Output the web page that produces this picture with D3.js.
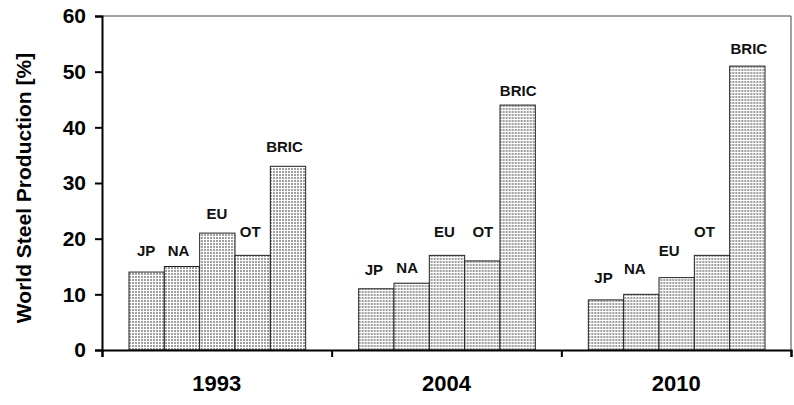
<!DOCTYPE html>
<html>
<head>
<meta charset="utf-8">
<script src="https://cdn.jsdelivr.net/npm/d3@7"></script>
<style>
  html, body { margin: 0; padding: 0; background: #fff; }
  svg { display: block; font-family: "Liberation Sans", Arial, sans-serif; }
</style>
</head>
<body>
<svg id="chart" width="794" height="405"></svg>
<script>
// ---- data ----
const years = ["1993", "2004", "2010"];
const regions = ["JP", "NA", "EU", "OT", "BRIC"];
const values1993 = [14, 15, 21, 17, 33];
const values2004 = [11, 12, 17, 16, 44];
const values2010 = [9, 10, 13, 17, 51];
const yTicks = [0, 10, 20, 30, 40, 50, 60];

// label nudges (layout only, px): horizontal shift and lift above bar top
const labelDx = [[0, -3, 0, -2, -3], [-2, -4, -2, 1, 1], [-2, -6, -7, -7, 2]];
const labelLift = [[22, 16, 20, 24, 20], [19, 16, 24, 29, 15], [22, 26, 27, 24, 18]];

const seriesByYear = [values1993, values2004, values2010];

const W = 794, H = 405;
const margin = { top: 16, right: 3, bottom: 55, left: 102 };
const svg = d3.select("#chart");

const x0 = d3.scaleBand().domain(years).range([margin.left, W - margin.right]).padding(0);
const x1 = d3.scaleBand().domain(regions).range([0, x0.bandwidth()]).paddingInner(0).paddingOuter(0.75);
const y = d3.scaleLinear().domain([0, 60]).range([H - margin.bottom, margin.top]);

// pattern fill
const defs = svg.append("defs");
const pat = defs.append("pattern").attr("id", "dots").attr("patternUnits", "userSpaceOnUse")
  .attr("width", 3).attr("height", 3);
pat.append("rect").attr("width", 3).attr("height", 3).attr("fill", "#fff");
pat.append("rect").attr("width", 2).attr("height", 2).attr("fill", "#a0a0a0");

// plot frame (top & right)
svg.append("path")
  .attr("d", `M${margin.left},${margin.top}H${W - margin.right}V${H - margin.bottom}`)
  .attr("fill", "none").attr("stroke", "#444").attr("stroke-width", 1);

// bars
const groups = svg.append("g").selectAll("g").data(years).join("g")
  .attr("transform", d => `translate(${x0(d)},0)`);

groups.each(function (yr, gi) {
  const g = d3.select(this);
  const vals = seriesByYear[gi];
  g.selectAll("rect").data(regions).join("rect")
    .attr("x", r => x1(r) + 0.5)
    .attr("y", (r, i) => y(vals[i]))
    .attr("width", x1.bandwidth())
    .attr("height", (r, i) => y(0) - y(vals[i]))
    .attr("fill", "url(#dots)")
    .attr("stroke", "#222").attr("stroke-width", 1);
  g.selectAll("text").data(regions).join("text")
    .attr("x", (r, i) => x1(r) + x1.bandwidth() / 2 + labelDx[gi][i])
    .attr("y", (r, i) => y(vals[i]) - labelLift[gi][i] + 5.5)
    .attr("text-anchor", "middle")
    .attr("font-size", 15).attr("font-weight", "bold").attr("fill", "#111")
    .text(r => r);
});

// y axis
const yAxis = svg.append("g").attr("transform", `translate(${margin.left},0)`)
  .call(d3.axisLeft(y).tickValues(yTicks).tickSize(7).tickPadding(9).tickFormat(d3.format("d")));
yAxis.select(".domain").attr("stroke", "#000").attr("stroke-width", 2);
yAxis.selectAll(".tick line").attr("stroke", "#000").attr("stroke-width", 2);
yAxis.selectAll(".tick text").attr("font-size", 21).attr("font-weight", "bold")
  .attr("fill", "#000").attr("font-family", "Liberation Sans, Arial, sans-serif");

// x axis: tick marks at group boundaries, labels at group centres
const xEdge = d3.scaleLinear().domain([0, years.length]).range([margin.left, W - margin.right]);
const xAxis = svg.append("g").attr("transform", `translate(0,${H - margin.bottom})`)
  .call(d3.axisBottom(xEdge).tickValues(d3.range(years.length + 1)).tickSize(7).tickFormat(""));
xAxis.select(".domain").attr("stroke", "#000").attr("stroke-width", 2);
xAxis.selectAll(".tick line").attr("stroke", "#000").attr("stroke-width", 2);

svg.append("g").selectAll("text").data(years).join("text")
  .attr("x", d => x0(d) + x0.bandwidth() / 2)
  .attr("y", H - margin.bottom + 41)
  .attr("text-anchor", "middle")
  .attr("font-size", 22).attr("font-weight", "bold").attr("fill", "#000")
  .text(d => d);

// y title
svg.append("text")
  .attr("transform", `translate(31,${(margin.top + H - margin.bottom) / 2 + 5}) rotate(-90)`)
  .attr("text-anchor", "middle")
  .attr("font-size", 21).attr("font-weight", "bold").attr("fill", "#000")
  .text("World Steel Production [%]");
</script>
</body>
</html>
